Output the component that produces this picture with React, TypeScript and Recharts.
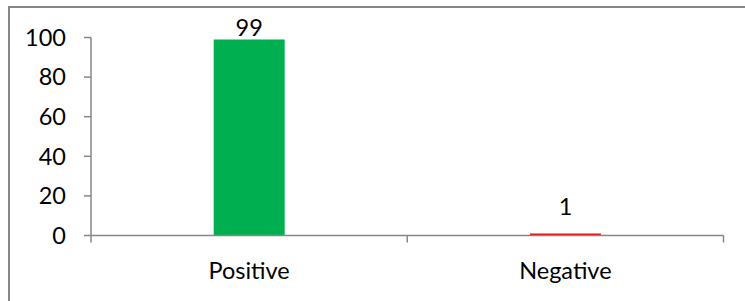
import React from 'react';
import { BarChart, Bar, XAxis, YAxis, Cell, LabelList } from 'recharts';

const categories = ['Positive', 'Negative'];
const values = [99, 1];
const colors = ['#00B050', '#FF0000'];
const yTicks = [0, 20, 40, 60, 80, 100];
const edgeTicks = [0, 1, 2];

const data = categories.map((c, i) => ({ name: c, value: values[i] }));

const FONT = 'Lato, "Open Sans", sans-serif';
const AXIS = '#868686';
const FS = 23.5;

const renderLabel = (props: any) => {
  const { x, y, width, value } = props;
  const off = value > 50 ? 3 : 19;
  return (
    <text x={x + width / 2} y={y - off} textAnchor="middle" fontFamily={FONT} fontSize={FS} fill="#000">
      {value}
    </text>
  );
};

export default function App() {
  return (
    <div style={{ position: 'fixed', left: 0, top: 0, width: 745, height: 301, background: '#fff', overflow: 'hidden' }}>
      <div style={{ position: 'absolute', left: 8, top: 6, width: 900, height: 500, borderLeft: `2px solid ${AXIS}`, borderTop: `2px solid ${AXIS}` }} />
      <div style={{ position: 'absolute', left: 0, top: 0 }}>
        <BarChart width={745} height={301} data={data} margin={{ top: 37.5, right: 21.5, bottom: 27.5, left: 0 }} barCategoryGap="38.8%">
          <XAxis xAxisId="a-edge" type="number" dataKey="idx" domain={[0, 2]} ticks={edgeTicks} height={8} allowDataOverflow
            axisLine={{ stroke: AXIS, strokeWidth: 1.5 }} tickLine={{ stroke: AXIS, strokeWidth: 1.5 }} tickSize={7}
            tickFormatter={() => ''} interval={0} />
          <XAxis dataKey="name" xAxisId="b-cat" axisLine={false} tickLine={false} tickSize={0} height={30}
            tick={{ fontFamily: FONT, fontSize: FS, fill: '#000' }} tickMargin={18.5} />
          <YAxis domain={[0, 100]} ticks={yTicks} width={91} tickSize={7} tickMargin={18}
            axisLine={{ stroke: AXIS, strokeWidth: 1.5 }} tickLine={{ stroke: AXIS, strokeWidth: 1.5 }}
            tick={{ fontFamily: FONT, fontSize: FS, fill: '#000' }} />
          <Bar dataKey="value" xAxisId="b-cat" isAnimationActive={false}>
            {data.map((d, i) => (
              <Cell key={d.name} fill={colors[i]} />
            ))}
            <LabelList dataKey="value" content={renderLabel} />
          </Bar>
        </BarChart>
      </div>
    </div>
  );
}
